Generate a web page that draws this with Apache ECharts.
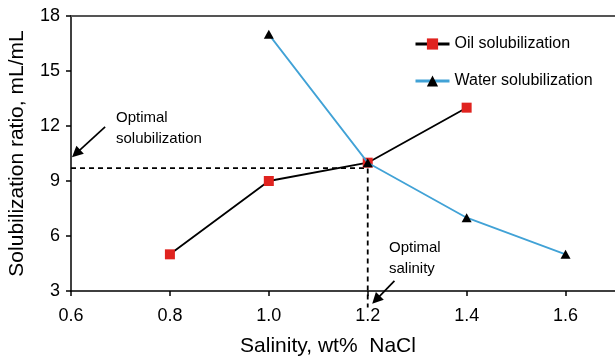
<!DOCTYPE html>
<html><head><meta charset="utf-8">
<script src="https://cdn.jsdelivr.net/npm/echarts@6/dist/echarts.min.js"></script>
<style>html,body{margin:0;padding:0;background:#fff}#c{width:615px;height:357px}</style>
</head><body><div id="c"></div>
<script>
var salinityOil = [0.8, 1.0, 1.2, 1.4];
var oilValues = [5, 9, 10, 13];
var salinityWater = [1.0, 1.2, 1.4, 1.6];
var waterValues = [17, 10, 7, 5];
var optimalSalinity = 1.2;
var optimalRatio = 9.7;
var xTicks = [0.6, 0.8, 1.0, 1.2, 1.4, 1.6];
var yTicks = [3, 6, 9, 12, 15, 18];
var arrowSolubilization = [[0.669, 11.95], [0.602, 10.3]];
var arrowSalinity = [[1.254, 3.55], [1.209, 2.3]];

var font = 'Liberation Sans, Arial, sans-serif';
var chart = echarts.init(document.getElementById('c'), null, {renderer: 'canvas'});
function pairs(xs, ys) { return xs.map(function (x, i) { return [x, ys[i]]; }); }

var texts = [{
  type: 'text', left: 116, top: 107,
  style: {text: 'Optimal\nsolubilization', font: '15px ' + font, fill: '#000', lineHeight: 21}
}, {
  type: 'text', left: 389, top: 237,
  style: {text: 'Optimal\nsalinity', font: '15px ' + font, fill: '#000', lineHeight: 21}
}];

chart.setOption({
  animation: false,
  textStyle: {fontFamily: font},
  grid: {left: 71, right: 0, top: 16, bottom: 66, containLabel: false, outerBoundsMode: 'none'},
  legend: {
    data: ['Oil solubilization', 'Water solubilization'],
    orient: 'vertical', left: 409, top: 31,
    itemWidth: 34, itemHeight: 14, itemGap: 21,
    lineStyle: {width: 3},
    textStyle: {fontSize: 16, color: '#000', fontFamily: font}
  },
  xAxis: [{
    type: 'value', min: 0.6, max: 1.7, interval: 0.2,
    name: 'Salinity, wt%  NaCl', nameLocation: 'middle', nameGap: 45,
    nameTextStyle: {fontSize: 21, color: '#000', padding: [0, 30, 0, 0]},
    axisLine: {show: true, onZero: false, lineStyle: {color: '#000', width: 1.5}},
    axisTick: {show: true, length: 5, lineStyle: {color: '#000', width: 1.5}},
    axisLabel: {fontSize: 18, color: '#000', margin: 16, showMaxLabel: false,
      formatter: function (v) { return xTicks.indexOf(Math.round(v*10)/10) >= 0 ? v.toFixed(1) : ''; }},
    splitLine: {show: false}
  }, {
    type: 'value', position: 'top', min: 0.6, max: 1.7,
    axisLine: {show: true, lineStyle: {color: '#555', width: 2}},
    axisTick: {show: false}, axisLabel: {show: false}, splitLine: {show: false}
  }],
  yAxis: {
    type: 'value', min: 3, max: 18, interval: 3,
    name: 'Solubilization ratio, mL/mL', nameLocation: 'middle', nameGap: 43,
    nameTextStyle: {fontSize: 21, color: '#000'},
    axisLine: {show: true, onZero: false, lineStyle: {color: '#000', width: 1.5}},
    axisTick: {show: true, length: 5, lineStyle: {color: '#000', width: 1.5}},
    axisLabel: {fontSize: 18, color: '#000', margin: 11,
      formatter: function (v) { return yTicks.indexOf(v) >= 0 ? String(v) : ''; }},
    splitLine: {show: false}
  },
  series: [{
    name: 'guide', type: 'line', clip: false, silent: true, symbol: 'none', z: 1,
    data: [[xTicks[0], optimalRatio], [optimalSalinity, optimalRatio], [optimalSalinity, 2.1]],
    lineStyle: {color: '#000', width: 1.8, type: [5, 4]}
  }, {
    name: 'Water solubilization', type: 'line', z: 3,
    data: pairs(salinityWater, waterValues),
    symbol: 'triangle', symbolSize: [10, 9],
    itemStyle: {color: '#000'},
    lineStyle: {color: '#41a2d6', width: 1.8}
  }, {
    name: 'Oil solubilization', type: 'line', z: 2,
    data: pairs(salinityOil, oilValues),
    symbol: 'rect', symbolSize: 10,
    itemStyle: {color: '#e0231f'},
    lineStyle: {color: '#000', width: 1.8}
  }],
  graphic: texts
});

function arrowGraphics(a) {
  var p0 = chart.convertToPixel({xAxisIndex: 0, yAxisIndex: 0}, a[0]);
  var p1 = chart.convertToPixel({xAxisIndex: 0, yAxisIndex: 0}, a[1]);
  var dx = p1[0] - p0[0], dy = p1[1] - p0[1];
  var len = Math.sqrt(dx * dx + dy * dy);
  var ux = dx / len, uy = dy / len;
  var hl = 11, hw = 5.5;
  var bx = p1[0] - ux * hl, by = p1[1] - uy * hl;
  return [{
    type: 'line', shape: {x1: p0[0], y1: p0[1], x2: bx + ux * 2, y2: by + uy * 2},
    style: {stroke: '#000', lineWidth: 1.7}, z: 10
  }, {
    type: 'polygon',
    shape: {points: [[p1[0], p1[1]], [bx - uy * hw, by + ux * hw], [bx + uy * hw, by - ux * hw]]},
    style: {fill: '#000'}, z: 10
  }];
}
chart.setOption({
  graphic: texts.concat(arrowGraphics(arrowSolubilization), arrowGraphics(arrowSalinity))
}, {replaceMerge: ['graphic']});
</script></body></html>
